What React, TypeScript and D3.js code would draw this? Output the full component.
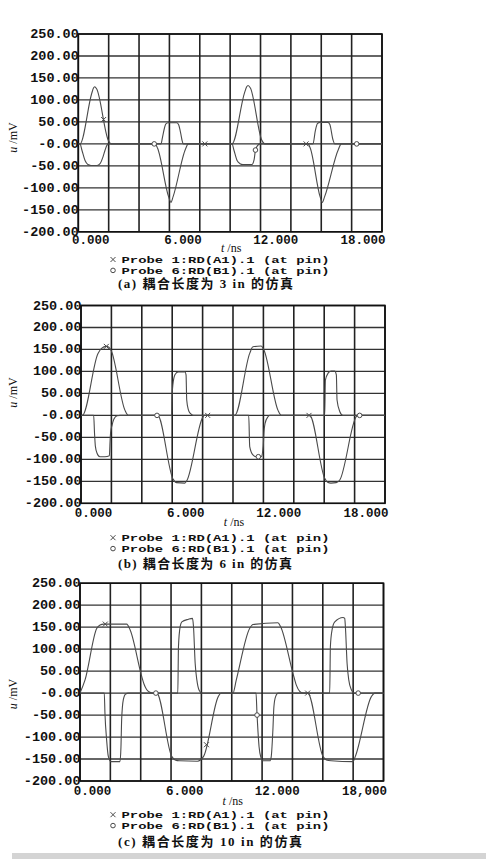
import React from 'react';
import * as d3 from 'd3';

// ---------- data ----------
const yTicks = [250, 200, 150, 100, 50, 0, -50, -100, -150, -200];
const yTickLabels = ['250.00', '200.00', '150.00', '100.00', '50.00', '-0.00', '-50.00', '-100.00', '-150.00', '-200.00'];
const xGrid = [0, 1.8, 3.6, 5.4, 7.2, 9, 10.8, 12.6, 14.4, 16.2, 18];
const xTicks = [0, 6, 12, 18];
const xTickLabelsAB = ['0.000', '6.000', '12.000', '18.000'];
const xTickLabelsC = ['0.000', '6.000', '12.000', '18,000'];
const probe1MarkerT = [1.5, 7.5, 13.5];
const probe6MarkerT = [4.5, 10.5, 16.5];
const legendLabels = ['Probe 1:RD(A1).1 (at pin)', 'Probe 6:RD(B1).1 (at pin)'];
const captions = ['(a) 耦合长度为 3 in 的仿真', '(b) 耦合长度为 6 in 的仿真', '(c) 耦合长度为 10 in 的仿真'];

// panel (a) coupling length 3 in
const probe1_3in = [
  [0, 0], [0.1, 0], [0.79, 114], [0.9, 127], [0.97, 130], [1.09, 125], [1.78, 8], [1.95, 0],
  [4.55, 0], [4.7, -10], [5.35, -120], [5.49, -133], [5.62, -120], [6.35, -12], [6.52, 0],
  [9.11, 0], [9.85, 116], [9.98, 130], [10.06, 133], [10.2, 127], [10.88, 8], [11.05, 0],
  [13.61, 0], [13.75, -10], [14.33, -120], [14.46, -133], [14.6, -120], [15.42, -12], [15.59, 0], [18, 0],
];
const probe6_3in = [
  [0, 0], [0.1, 0], [0.22, -15], [0.4, -38], [0.57, -47], [0.75, -49], [1.11, -49], [1.29, -45], [1.46, -30], [1.58, -15], [1.7, -3], [1.82, 0],
  [4.9, 0], [4.99, 15], [5.1, 35], [5.18, 45], [5.32, 48], [5.83, 48], [5.94, 44], [6.09, 20], [6.15, 8], [6.22, 0],
  [9.11, 0], [9.23, -15], [9.41, -38], [9.58, -45], [9.76, -47], [10.29, -47], [10.42, -36], [10.5, -14], [10.62, -4], [10.77, 0],
  [13.91, 0], [14.05, 30], [14.17, 46], [14.33, 49], [14.8, 49], [14.91, 44], [15.09, 10], [15.2, 0], [18, 0],
];

// panel (b) coupling length 6 in
const probe1_6in = [
  [0, 0], [0.08, 0], [1.0, 140], [1.2, 152], [1.5, 157], [1.65, 155], [1.78, 148], [2.6, 12], [2.8, 0],
  [4.54, 0], [5.45, -145], [5.65, -153], [6.15, -154], [6.27, -148], [7.2, -5], [7.3, 0],
  [9.1, 0], [9.99, 141], [10.18, 156], [10.67, 158], [10.83, 149], [11.66, 12], [11.86, 0],
  [13.54, 0], [14.43, -143], [14.6, -152], [14.8, -154], [15.11, -153], [15.32, -147], [16.3, -3], [16.4, 0], [18, 0],
];
const probe6_6in = [
  [0, 0], [0.75, 0], [0.8, -40], [0.85, -70], [0.95, -86], [1.12, -94], [1.42, -94], [1.68, -92], [1.72, -60], [1.75, -40], [1.84, -22], [1.95, -8], [2.13, -1], [2.31, 0],
  [5.37, 0], [5.39, 40], [5.44, 70], [5.57, 93], [5.76, 99], [6.16, 99], [6.22, 92], [6.26, 35], [6.36, 12.5], [6.46, 5], [6.66, 0],
  [9.93, 0], [9.99, -71], [10.18, -90], [10.37, -94], [10.67, -94], [10.79, -71], [10.83, -40], [10.9, -18], [11.07, -3], [11.17, 0],
  [14.43, 0], [14.47, 80], [14.63, 96], [14.82, 101], [15.02, 101], [15.12, 92], [15.16, 35], [15.32, 9], [15.51, 0], [18, 0],
];

// panel (c) coupling length 10 in
const probe1_10in = [
  [0, 0], [0.3, 30], [0.99, 147], [1.19, 155], [1.4, 157], [2.77, 157], [2.97, 144], [3.66, 38], [3.8, 20], [3.95, 8], [4.15, 2], [4.3, 0],
  [4.55, 0], [5.44, -144], [5.64, -152], [5.9, -154], [6.96, -155], [7.33, -144], [8.2, -8], [8.36, 0],
  [9.07, 0], [9.27, 30], [10.06, 147], [10.26, 156], [11.74, 160], [11.9, 151], [12.63, 45], [12.83, 18], [13.03, 4], [13.25, 0],
  [13.51, 0], [14.41, -144], [14.61, -152], [14.9, -154], [16.19, -156], [16.33, -144], [17.28, -8], [17.48, 0], [18, 0],
];
const probe6_10in = [
  [0, 0], [1.44, 0], [1.48, -46], [1.58, -107], [1.68, -144], [1.84, -156], [2.37, -156], [2.43, -122], [2.47, -61], [2.57, -15], [2.71, -2], [2.87, 0],
  [5.8, 0], [5.84, 106], [5.94, 151], [6.04, 162], [6.43, 168], [6.67, 170], [6.73, 152], [6.83, 68], [6.93, 30], [7.06, 7], [7.22, 0],
  [10.44, 0], [10.5, -50], [10.56, -90], [10.62, -122], [10.72, -145], [10.86, -154], [11.26, -154], [11.34, -145], [11.44, -84], [11.5, -31], [11.6, -8], [11.75, 0],
  [14.81, 0], [14.85, 106], [14.95, 144], [15.11, 162], [15.6, 172], [15.7, 170], [15.74, 151], [15.84, 68], [15.94, 30], [16.1, 7], [16.25, 0], [18, 0],
];

// ---------- layout ----------
const W = 486;
const Hsvg = 859;
const PH = 197.8;
const LEG_GAP = 10.9;
const panels = [
  { top: 34, left: 78.3, right: 382, xLabelBase: 244, tBase: 252, leg1: 262.8, capBase: 288, capW: 175, yTitleCy: 137.5, p1: probe1_3in, p6: probe6_3in, xl: xTickLabelsAB },
  { top: 305.5, left: 81, right: 385, xLabelBase: 517, tBase: 525.5, leg1: 541, capBase: 568, capW: 174, yTitleCy: 392.5, p1: probe1_6in, p6: probe6_6in, xl: xTickLabelsAB },
  { top: 583.2, left: 80, right: 383.5, xLabelBase: 795, tBase: 805, leg1: 818, capBase: 845.5, capW: 184, yTitleCy: 694, p1: probe1_10in, p6: probe6_10in, xl: xTickLabelsC },
];
const xLabelDx = [12.5, 3.5, -5, -19];

const MONO = "'Liberation Mono', 'DejaVu Sans Mono', monospace";
const SERIF = "'Liberation Serif', 'DejaVu Serif', 'Noto Sans CJK SC', serif";
const CAPFONT = "'Liberation Serif', 'Noto Sans CJK SC', serif";
const CURVE = '#4a4a4a';

function interp(data: number[][], t: number) {
  for (let i = 1; i < data.length; i++) {
    if (t <= data[i][0]) {
      const [t0, v0] = data[i - 1];
      const [t1, v1] = data[i];
      return t1 === t0 ? v1 : v0 + ((v1 - v0) * (t - t0)) / (t1 - t0);
    }
  }
  return data[data.length - 1][1];
}

function Cross({ cx, cy }: { cx: number; cy: number }) {
  return <path d={`M${cx - 2.5},${cy - 2.5}L${cx + 2.5},${cy + 2.5}M${cx - 2.5},${cy + 2.5}L${cx + 2.5},${cy - 2.5}`} stroke={CURVE} strokeWidth={1} fill="none" />;
}
function Ring({ cx, cy }: { cx: number; cy: number }) {
  return <circle cx={cx} cy={cy} r={2.3} fill="#fff" stroke={CURVE} strokeWidth={1} />;
}

function Panel({ cfg, caption }: { cfg: any; caption: string }) {
  const x = d3.scaleLinear().domain([0, 18]).range([cfg.left, cfg.right]);
  const y = d3.scaleLinear().domain([-200, 250]).range([cfg.top + PH, cfg.top]);
  const line = d3
    .line<number[]>()
    .x((d) => x(d[0]))
    .y((d) => y(d[1]))
    .curve(d3.curveMonotoneX);
  const cxMid = (cfg.left + cfg.right) / 2;
  const leg2 = cfg.leg1 + LEG_GAP;
  return (
    <g>
      {yTicks.map((v) => (
        <line key={'h' + v} x1={cfg.left} x2={cfg.right} y1={y(v)} y2={y(v)} stroke="#333" strokeWidth={1.3} />
      ))}
      {xGrid.map((v) => (
        <line key={'v' + v} x1={x(v)} x2={x(v)} y1={cfg.top} y2={cfg.top + PH} stroke="#222" strokeWidth={1.6} />
      ))}
      <rect x={cfg.left} y={cfg.top} width={cfg.right - cfg.left} height={PH} fill="none" stroke="#111" strokeWidth={1.6} />
      <path d={line(cfg.p6) || ''} fill="none" stroke={CURVE} strokeWidth={1.1} />
      <path d={line(cfg.p1) || ''} fill="none" stroke={CURVE} strokeWidth={1.1} />
      {probe1MarkerT.map((t) => (
        <Cross key={'c' + t} cx={x(t)} cy={y(interp(cfg.p1, t))} />
      ))}
      {probe6MarkerT.map((t) => (
        <Ring key={'r' + t} cx={x(t)} cy={y(interp(cfg.p6, t))} />
      ))}
      {yTicks.map((v, i) => (
        <text key={'yl' + v} x={cfg.left + 0.5} y={y(v) + 0.5} textAnchor="end" dominantBaseline="central" fontFamily={MONO} fontWeight="bold" fontSize={13.5} fill="#111">
          {yTickLabels[i]}
        </text>
      ))}
      {xTicks.map((v, i) => (
        <text key={'xl' + v} x={x(v) + xLabelDx[i]} y={cfg.xLabelBase} textAnchor="middle" fontFamily={MONO} fontWeight="bold" fontSize={12.5} fill="#111">
          {cfg.xl[i]}
        </text>
      ))}
      <text x={cxMid + 1} y={cfg.tBase} textAnchor="middle" fontFamily={SERIF} fontSize={12} fill="#111">
        <tspan fontStyle="italic">t</tspan>
        <tspan> /ns</tspan>
      </text>
      <text transform={`translate(${13},${cfg.yTitleCy}) rotate(-90)`} textAnchor="middle" dominantBaseline="central" fontFamily={SERIF} fontSize={12} fill="#111">
        <tspan fontStyle="italic">u</tspan>
        <tspan> /mV</tspan>
      </text>
      <Cross cx={113} cy={cfg.leg1 - 3.3} />
      <Ring cx={113} cy={leg2 - 3.3} />
      <text x={121.5} y={cfg.leg1} fontFamily={MONO} fontWeight="bold" fontSize={9.5} fill="#111" textLength={208} lengthAdjust="spacingAndGlyphs">
        {legendLabels[0]}
      </text>
      <text x={121.5} y={leg2} fontFamily={MONO} fontWeight="bold" fontSize={9.5} fill="#111" textLength={208} lengthAdjust="spacingAndGlyphs">
        {legendLabels[1]}
      </text>
      <text x={118} y={cfg.capBase} fontFamily={CAPFONT} fontWeight={600} fontSize={13} fill="#111" textLength={cfg.capW} lengthAdjust="spacing">
        {caption}
      </text>
    </g>
  );
}

export default function App() {
  return (
    <svg width={W} height={Hsvg} style={{ position: 'absolute', left: 0, top: 0, background: '#fff' }} xmlns="http://www.w3.org/2000/svg">
      <rect x={0} y={0} width={W} height={Hsvg} fill="#fff" />
      {panels.map((p, i) => (
        <Panel key={i} cfg={p} caption={captions[i]} />
      ))}
      <rect x={12} y={853} width={W - 12} height={6} fill="#d4d4d4" />
    </svg>
  );
}
